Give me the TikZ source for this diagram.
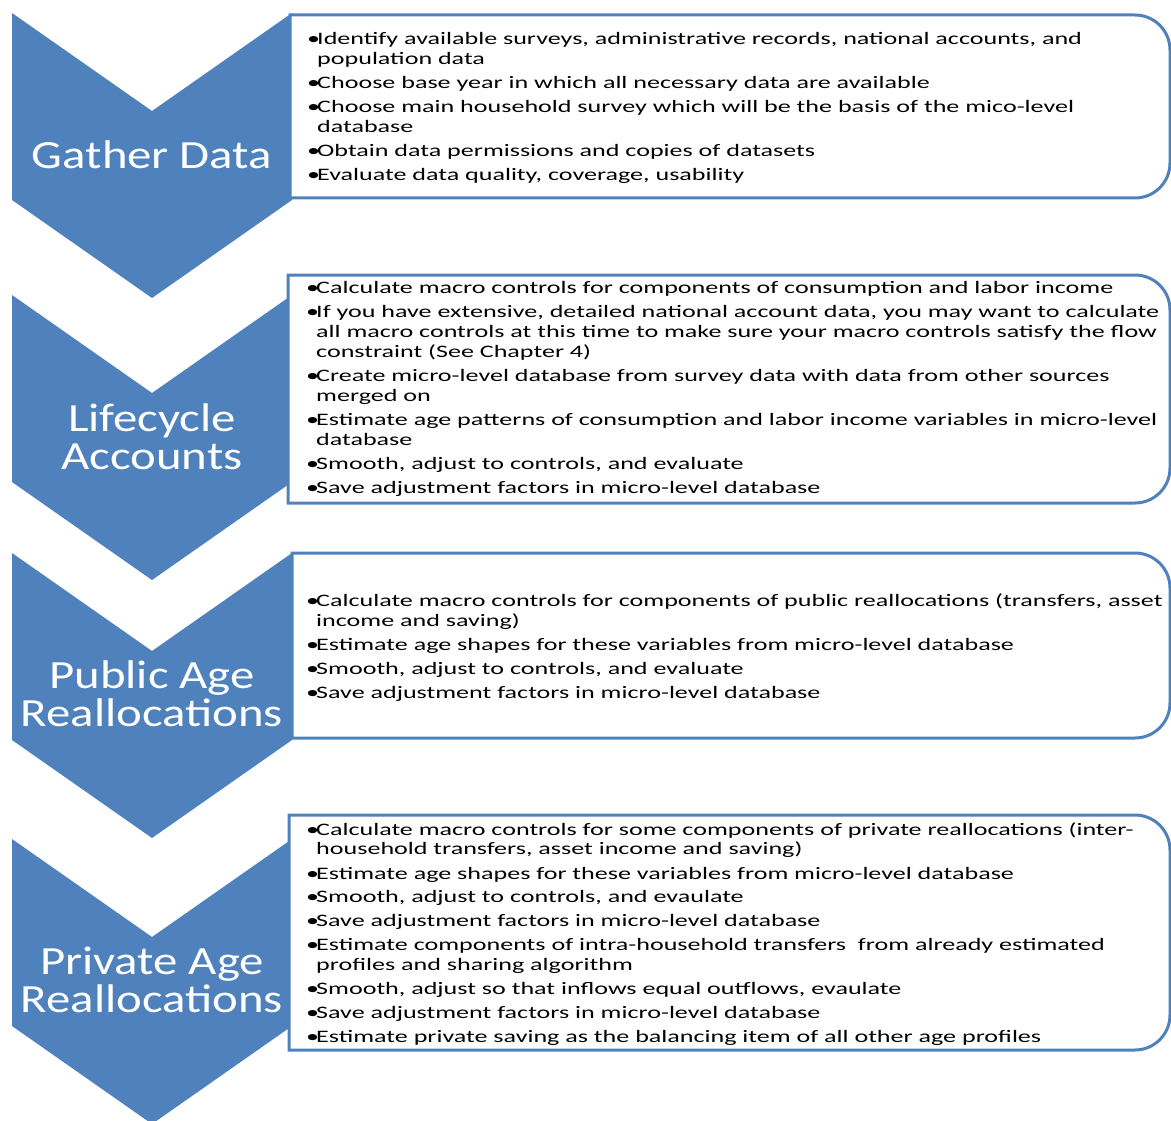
\documentclass[tikz,border=0pt]{standalone}
\usepackage{fontspec}
\newfontfamily\boxfont[FakeStretch=1.49]{Carlito}
\newfontfamily\chevfont[FakeStretch=1.22]{Carlito}
\definecolor{chevblue}{RGB}{79,129,189}
\newcommand{\bul}{\makebox[10pt][l]{\textbullet}}
\newcommand{\cnt}{\hspace*{10pt}}
\begin{document}
\begin{tikzpicture}[
  x=1pt, y=-1pt,
  chev/.style={fill=chevblue},
  stepbox/.style={draw=chevblue, line width=3pt, fill=white},
  steplabel/.style={text=white, align=center, inner sep=0pt,
    font=\chevfont\fontsize{40}{38}\selectfont},
  items/.style={anchor=north west, align=left, inner sep=0pt,
    font=\boxfont\fontsize{17.5}{20}\selectfont}]
  \useasboundingbox (0,0) rectangle (1171,1121);

  \foreach \t in {13,295,553,839}
    \fill[chev] (12,\t) -- (152,\t+98) -- (292,\t) -- (292,\t+187)
      -- (152,\t+285) -- (12,\t+187) -- cycle;

  \draw[stepbox] (290,15) [rounded corners=35pt] -- (1170,15) -- (1170,198)
    [sharp corners] -- (290,198) -- cycle;
  \draw[stepbox] (288,275) [rounded corners=35pt] -- (1170,275) -- (1170,503)
    [sharp corners] -- (288,503) -- cycle;
  \draw[stepbox] (292,553) [rounded corners=35pt] -- (1170,553) -- (1170,738)
    [sharp corners] -- (292,738) -- cycle;
  \draw[stepbox] (289,815) [rounded corners=35pt] -- (1170,815) -- (1170,1050)
    [sharp corners] -- (289,1050) -- cycle;

  \node[steplabel] (gd) at (152,155) {Gather Data};
  \node[steplabel] (lc) at (152,437) {Lifecycle\\Accounts};
  \node[steplabel] (pub) at (152,694) {Public Age\\Reallocations};
  \node[steplabel] (priv) at (152,980) {Private Age\\Reallocations};

  \node[items] (gdi) at (307,32) {%
    \bul Identify available surveys, administrative records, national accounts, and\\
    \cnt population data\\[4pt]
    \bul Choose base year in which all necessary data are available\\[4pt]
    \bul Choose main household survey which will be the basis of the mico-level\\
    \cnt database\\[4pt]
    \bul Obtain data permissions and copies of datasets\\[4pt]
    \bul Evaluate data quality, coverage, usability};

  \node[items] (lci) at (306,281) {%
    \bul Calculate macro controls for components of consumption and labor income\\[4pt]
    \bul If you have extensive, detailed national account data, you may want to calculate\\
    \cnt all macro controls at this time to make sure your macro controls satisfy the flow\\
    \cnt constraint (See Chapter 4)\\[4pt]
    \bul Create micro-level database from survey data with data from other sources\\
    \cnt merged on\\[4pt]
    \bul Estimate age patterns of consumption and labor income variables in micro-level\\
    \cnt database\\[4pt]
    \bul Smooth, adjust to controls, and evaluate\\[4pt]
    \bul Save adjustment factors in micro-level database};

  \node[items] (pubi) at (306,594) {%
    \bul Calculate macro controls for components of public reallocations (transfers, asset\\
    \cnt income and saving)\\[4pt]
    \bul Estimate age shapes for these variables from micro-level database\\[4pt]
    \bul Smooth, adjust to controls, and evaluate\\[4pt]
    \bul Save adjustment factors in micro-level database};

  \node[items] (privi) at (306,822) {%
    \bul Calculate macro controls for some components of private reallocations (inter-\\
    \cnt household transfers, asset income and saving)\\[4pt]
    \bul Estimate age shapes for these variables from micro-level database\\[4pt]
    \bul Smooth, adjust to controls, and evaulate\\[4pt]
    \bul Save adjustment factors in micro-level database\\[4pt]
    \bul Estimate components of intra-household transfers\ \ from already estimated\\
    \cnt profiles and sharing algorithm\\[4pt]
    \bul Smooth, adjust so that inflows equal outflows, evaulate\\[4pt]
    \bul Save adjustment factors in micro-level database\\[4pt]
    \bul Estimate private saving as the balancing item of all other age profiles};
\end{tikzpicture}
\end{document}
